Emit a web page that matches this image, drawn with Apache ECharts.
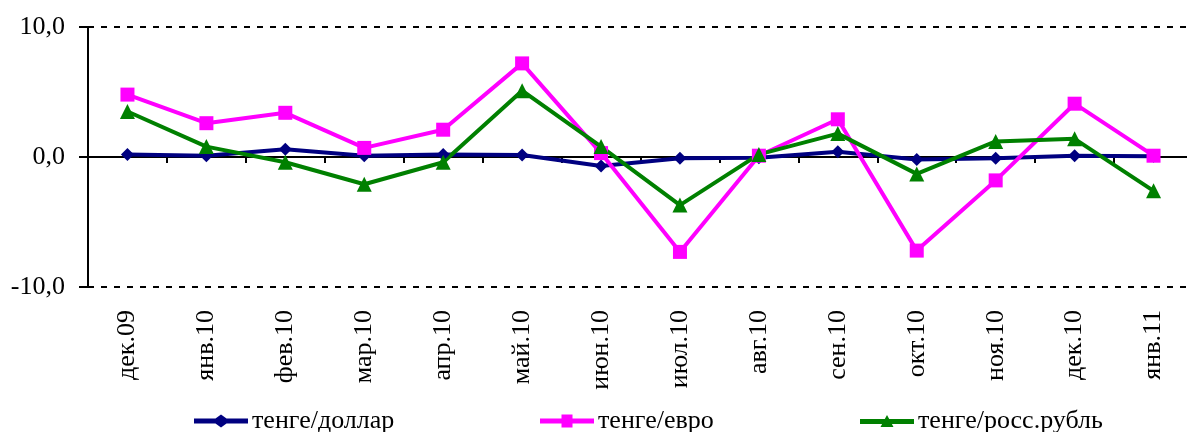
<!DOCTYPE html>
<html>
<head>
<meta charset="utf-8">
<script src="https://cdn.jsdelivr.net/npm/echarts@6/dist/echarts.min.js"></script>
<style>
	html, body { margin: 0; padding: 0; background: #fff; overflow: hidden; }
	#chart { width: 1196px; height: 432px; }
</style>
</head>
<body>
<div id="chart"></div>
<script>
var months = ['дек.09', 'янв.10', 'фев.10', 'мар.10', 'апр.10', 'май.10', 'июн.10',
	'июл.10', 'авг.10', 'сен.10', 'окт.10', 'ноя.10', 'дек.10', 'янв.11'];
var dollar = [0.2, 0.1, 0.6, 0.1, 0.2, 0.15, -0.7, -0.1, -0.05, 0.4, -0.2, -0.1, 0.1, 0.05];
var euro = [4.8, 2.6, 3.4, 0.7, 2.1, 7.2, 0.3, -7.3, 0.1, 2.9, -7.2, -1.8, 4.1, 0.1];
var ruble = [3.5, 0.8, -0.4, -2.1, -0.4, 5.1, 0.8, -3.7, 0.2, 1.8, -1.3, 1.2, 1.4, -2.6];
var yTicks = [-10, 0, 10];
var names = ['тенге/доллар', 'тенге/евро', 'тенге/росс.рубль'];

var fontName = '"Liberation Serif", "Times New Roman", serif';
var myChart = echarts.init(document.getElementById('chart'), null, { renderer : 'canvas' });

// значки легенды: толстая линия + маркер посередине
var iconDiamond = 'path://M0,4H21.5L27,0L32.5,4H54V9H32.5L27,13L21.5,9H0Z';
var iconSquare = 'path://M0,4H21.5V0H32.5V4H54V9H32.5V13H21.5V9H0Z';
var iconTriangle = 'path://M0,4H24.8L27,0L29.2,4H54V9H31.9L33.5,12H20.5L22.1,9H0Z';

function makeSeries(name, data, color, symbol, size) {
	return {
		name : name,
		type : 'line',
		data : data,
		xAxisIndex : 0,
		symbol : symbol,
		symbolSize : size,
		lineStyle : { color : color, width : 4 },
		itemStyle : { color : color },
		animation : false
	};
}

// одна легенда на серию, чтобы поставить их как в оригинале
function makeLegend(name, left, icon) {
	return {
		left : left,
		top : 403,
		itemWidth : 54,
		itemHeight : 13,
		itemGap : 6,
		icon : icon,
		itemStyle : { borderWidth : 0 },
		textStyle : { fontFamily : fontName, fontSize : 26, color : '#000', padding : [0, 0, 0, -1] },
		data : [name]
	};
}

var option = {
	backgroundColor : '#fff',
	textStyle : { fontFamily : fontName },
	grid : { left : 88, top : 27, width : 1105, height : 260 },
	legend : [
		makeLegend(names[0], 189, iconDiamond),
		makeLegend(names[1], 535, iconSquare),
		makeLegend(names[2], 855, iconTriangle)
	],
	xAxis : [ {
		type : 'category',
		data : months,
		position : 'bottom',
		axisLine : { show : false, onZero : false },
		axisTick : { show : false },
		axisLabel : {
			rotate : 90,
			margin : 23,
			fontFamily : fontName,
			fontSize : 26,
			color : '#000'
		}
	}, {
		type : 'category',
		data : months,
		position : 'bottom',
		axisLine : { show : true, onZero : true, lineStyle : { color : '#000', width : 2 } },
		axisTick : { show : true, length : 6, lineStyle : { color : '#000', width : 2 } },
		axisLabel : { show : false }
	} ],
	yAxis : {
		type : 'value',
		min : yTicks[0],
		max : yTicks[yTicks.length - 1],
		interval : 10,
		axisLine : { show : true, lineStyle : { color : '#000', width : 2 } },
		axisTick : { show : true, length : 9, lineStyle : { color : '#000', width : 2 } },
		axisLabel : {
			margin : 23,
			fontFamily : fontName,
			fontSize : 26,
			color : '#000',
			formatter : function(v) {
				return v.toFixed(1).replace('.', ',');
			}
		},
		splitLine : {
			show : true,
			lineStyle : { color : '#000', width : 2, type : [6, 7] }
		}
	},
	series : [
		makeSeries(names[0], dollar, '#000080', 'diamond', 13),
		makeSeries(names[1], euro, '#ff00ff', 'rect', 14),
		makeSeries(names[2], ruble, '#008000', 'triangle', 15)
	]
};
myChart.setOption(option);
</script>
</body>
</html>
